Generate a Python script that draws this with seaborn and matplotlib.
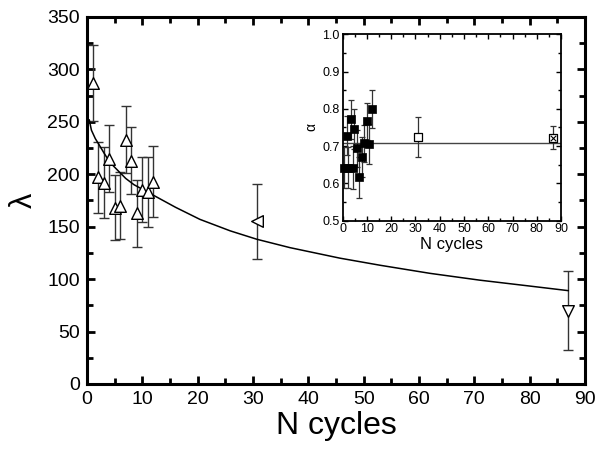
import numpy as np
import pandas as pd
import matplotlib
matplotlib.use("Agg")
import matplotlib.pyplot as plt
from matplotlib.ticker import MultipleLocator
import seaborn as sns

# ---------------- data ----------------
# main panel: lambda vs N cycles
main_x = [1, 2, 3, 4, 5, 6, 7, 8, 9, 10, 11, 12]
main_y = [287, 197, 192, 215, 168, 170, 233, 213, 163, 185, 183, 193]
main_err = [36, 34, 34, 32, 31, 32, 32, 32, 32, 31, 33, 34]

left_x = [30.7]
left_y = [155]
left_err = [35.5]

down_x = [87]
down_y = [70]
down_err = [37.5]

# fitted curve
fit_x = [0.4, 0.8, 1.5, 2.2, 3.1, 4.2, 5.5, 7.0, 8.5, 12, 16, 20.4, 25.9, 30.7, 36.7, 45.7, 53, 62, 71, 80, 87]
fit_y = [252, 242, 234, 228, 220, 211, 204, 196, 190, 180, 168.5, 157, 146, 138, 130, 120, 113.2, 105.5, 99, 93.4, 89]

# inset: alpha vs N cycles
ins_x = [0.5, 1.9, 2.3, 3.3, 4.1, 4.8, 6.0, 6.9, 8.1, 8.8, 9.9, 11.0, 12.0]
ins_y = [0.642, 0.728, 0.642, 0.772, 0.642, 0.745, 0.694, 0.616, 0.671, 0.708, 0.767, 0.706, 0.799]
ins_err = [0.055, 0.052, 0.055, 0.052, 0.057, 0.054, 0.05, 0.056, 0.054, 0.05, 0.05, 0.054, 0.051]

open_x = [30.9]
open_y = [0.724]
open_err = [0.053]

cross_x = [86.8]
cross_y = [0.723]
cross_err = [0.032]

alpha_mean = 0.709

xticks = [0, 10, 20, 30, 40, 50, 60, 70, 80, 90]
yticks_main = [0, 50, 100, 150, 200, 250, 300, 350]
yticks_ins = [0.5, 0.6, 0.7, 0.8, 0.9, 1.0]

# ---------------- style ----------------
sns.set_style("ticks")
plt.rcParams['font.family'] = ['Liberation Sans', 'DejaVu Sans']
plt.rcParams['text.color'] = 'black'
plt.rcParams['axes.labelcolor'] = 'black'

fig = plt.figure(figsize=(6.11, 4.5), dpi=100)
ax = fig.add_axes([0.1424, 0.1467, 0.815, 0.8156])

ecol = '#333333'

# main error bars
for xs, ys, es in [(main_x, main_y, main_err), (left_x, left_y, left_err),
                   (down_x, down_y, down_err)]:
    ax.errorbar(xs, ys, yerr=es, fmt='none', ecolor=ecol,
                elinewidth=1.0, capsize=3.5, capthick=1.0, zorder=2)

# fit curve
sns.lineplot(x=fit_x, y=fit_y, ax=ax, color='black', linewidth=1.1,
             sort=False, zorder=3)

# markers
sns.scatterplot(x=main_x, y=main_y, ax=ax, marker='^', s=70,
                facecolor='white', edgecolor='black', linewidth=1.0, zorder=4)
sns.scatterplot(x=left_x, y=left_y, ax=ax, marker='<', s=70,
                facecolor='white', edgecolor='black', linewidth=1.0, zorder=4)
sns.scatterplot(x=down_x, y=down_y, ax=ax, marker='v', s=70,
                facecolor='white', edgecolor='black', linewidth=1.0, zorder=4)

ax.set_xlim(0, 90)
ax.set_ylim(0, 350)
ax.set_xticks(xticks)
ax.set_yticks(yticks_main)
ax.xaxis.set_minor_locator(MultipleLocator(5))
ax.yaxis.set_minor_locator(MultipleLocator(25))
ax.tick_params(which='both', direction='in', top=True, right=True,
               labeltop=False, labelright=False, width=2.0, colors='black',
               labelcolor='black')
ax.tick_params(which='major', length=6, labelsize=14, pad=5)
ax.tick_params(which='minor', length=4)
for sp in ax.spines.values():
    sp.set_visible(True)
    sp.set_linewidth(2.2)
    sp.set_color('black')
ax.set_xlabel('N cycles', fontsize=23, labelpad=2, color='black')
ax.set_ylabel('λ', fontsize=22, labelpad=6, color='black')

# ---------------- inset ----------------
axi = fig.add_axes([0.5609, 0.5096, 0.3573, 0.4142])
axi.axhline(alpha_mean, color='#444444', linewidth=1.0, zorder=1)

for xs, ys, es in [(ins_x, ins_y, ins_err), (open_x, open_y, open_err),
                   (cross_x, cross_y, cross_err)]:
    axi.errorbar(xs, ys, yerr=es, fmt='none', ecolor=ecol,
                 elinewidth=0.9, capsize=2, capthick=0.9, zorder=2)

sns.scatterplot(x=ins_x, y=ins_y, ax=axi, marker='s', s=34,
                color='black', edgecolor='black', linewidth=0.5, zorder=4,
                clip_on=False)
sns.scatterplot(x=open_x, y=open_y, ax=axi, marker='s', s=34,
                facecolor='white', edgecolor='black', linewidth=0.9, zorder=4)
sns.scatterplot(x=cross_x, y=cross_y, ax=axi, marker='s', s=34,
                facecolor='white', edgecolor='black', linewidth=0.9, zorder=4)
sns.scatterplot(x=cross_x, y=cross_y, ax=axi, marker='x', s=16,
                color='black', linewidth=0.8, zorder=5)

axi.set_xlim(0, 90)
axi.set_ylim(0.5, 1.0)
axi.set_xticks(xticks)
axi.set_yticks(yticks_ins)
axi.set_yticklabels([f'{v:.1f}' for v in yticks_ins])
axi.xaxis.set_minor_locator(MultipleLocator(5))
axi.yaxis.set_minor_locator(MultipleLocator(0.05))
axi.tick_params(which='both', direction='in', top=True, right=True,
                labeltop=False, labelright=False, width=1.0, colors='black',
                labelcolor='black')
axi.tick_params(which='major', length=3.5, labelsize=9, pad=2)
axi.tick_params(which='minor', length=2)
for sp in axi.spines.values():
    sp.set_visible(True)
    sp.set_linewidth(1.3)
    sp.set_color('black')
axi.set_xlabel('N cycles', fontsize=12, labelpad=1, color='black')
axi.set_ylabel('α', fontsize=10, labelpad=3, color='black')

fig.savefig('out.png', dpi=100)
